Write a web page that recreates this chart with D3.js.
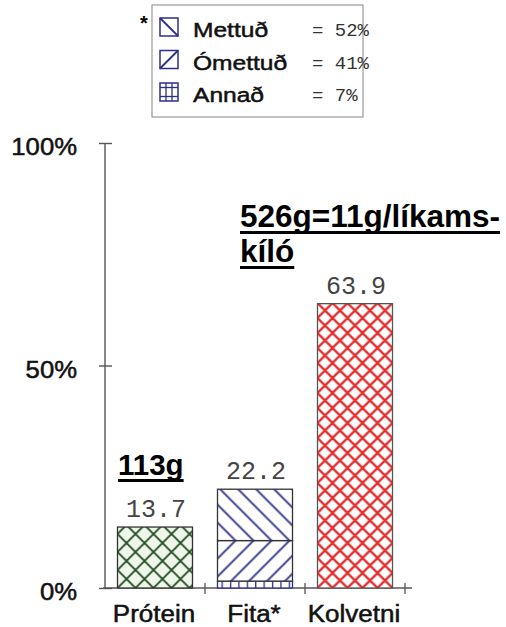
<!DOCTYPE html>
<html><head><meta charset="utf-8">
<script src="https://cdn.jsdelivr.net/npm/d3@7"></script>
<style>
html,body{margin:0;padding:0;background:#fff;}
svg{display:block;}
</style></head>
<body>
<svg id="chart" width="506" height="627"></svg>
<script>
// ---------- data ----------
const categories = ["Prótein", "Fita*", "Kolvetni"];
const values = [13.7, 22.2, 63.9];
const valueLabels = ["13.7", "22.2", "63.9"];
const fatParts = ["Annað", "Ómettuð", "Mettuð"];      // stacked bottom -> top
const fatShares = [7, 41, 52];                        // percent of fat
const legendNames = ["Mettuð", "Ómettuð", "Annað"];
const legendShares = ["= 52%", "= 41%", "= 7%"];
const yTicks = [0, 50, 100];
const noteProtein = ["113g"];
const noteCarb = ["526g=11g/líkams-", "kíló"];

// ---------- setup ----------
const svg = d3.select("#chart");
const sans = "'Liberation Sans', Arial, Helvetica, sans-serif";
const mono = "'Liberation Mono', 'Courier New', monospace";
const navy = "#2c2f88";

const y = d3.scaleLinear().domain([0, 100]).range([588, 143]);
const x = d3.scaleBand().domain(categories).range([105, 405]).paddingInner(0.25).paddingOuter(0.125);

const defs = svg.append("defs");
function diagPath(p, dir) {
  if (dir === "back") // "\"
    return `M0,0L${p},${p}M-2,${p - 2}L2,${p + 2}M${p - 2},-2L${p + 2},2`;
  return `M0,${p}L${p},0M-2,2L2,-2M${p - 2},${p + 2}L${p + 2},${p - 2}`; // "/"
}
function makePattern(id, p, px, py, dirs, color, width, bg) {
  const pat = defs.append("pattern").attr("id", id).attr("patternUnits", "userSpaceOnUse")
    .attr("x", px).attr("y", py).attr("width", p).attr("height", p);
  pat.append("rect").attr("width", p).attr("height", p).attr("fill", bg);
  dirs.forEach(d => pat.append("path").attr("d", diagPath(p, d)).attr("stroke", color)
    .attr("stroke-width", width).attr("fill", "none"));
}

// fat stack boundaries
const fatVal = values[1];
let acc = 0;
const fatSegs = fatParts.map((k, i) => {
  const v0 = acc; acc += fatVal * fatShares[i] / 100;
  return { key: k, v0: v0, v1: acc };
});

makePattern("pGreen", 18, x(categories[0]), y(0), ["back", "fwd"], "#264f26", 1.9, "#eef6e9");
makePattern("pRed", 15, x(categories[2]), y(0), ["back", "fwd"], "#e52e2e", 2.3, "#ffffff");
makePattern("pMet", 18, x(categories[1]), y(fatSegs[1].v1), ["back"], navy, 1.8, "#ffffff");
makePattern("pOmet", 18, x(categories[1]), y(fatSegs[1].v1), ["fwd"], navy, 1.8, "#ffffff");
{
  const p = 8.4;
  const pat = defs.append("pattern").attr("id", "pAnn").attr("patternUnits", "userSpaceOnUse")
    .attr("x", x(categories[1]) + 4).attr("y", 0).attr("width", p).attr("height", 20);
  pat.append("rect").attr("width", p).attr("height", 20).attr("fill", "#fff");
  pat.append("line").attr("x1", 0.6).attr("x2", 0.6).attr("y1", 0).attr("y2", 20)
    .attr("stroke", navy).attr("stroke-width", 1.4);
}

// ---------- axes ----------
const yAxis = svg.append("g").attr("transform", `translate(${x.range()[0]},0)`)
  .call(d3.axisLeft(y).tickValues(yTicks).tickFormat(d => d + "%").tickSize(6));
yAxis.select(".domain").attr("stroke", "#555").attr("stroke-width", 1.4)
  .attr("d", `M0,${y(100)}V${y(0)}`);
yAxis.selectAll(".tick line").attr("x1", -6).attr("x2", 7).attr("stroke", "#555").attr("stroke-width", 1.4);
yAxis.selectAll(".tick text")
  .attr("x", null).attr("dy", null)
  .attr("transform", "translate(-28,11.5) scale(1.07,1)")
  .attr("text-anchor", "end")
  .style("font-family", sans).style("font-size", "24px").attr("fill", "#111")
  .attr("stroke", "#111").attr("stroke-width", 0.5);

// baseline + boundary ticks
const step = x.step();
svg.append("line").attr("x1", x.range()[0] - 2).attr("x2", x.range()[1] + 7)
  .attr("y1", y(0)).attr("y2", y(0)).attr("stroke", "#555").attr("stroke-width", 1.4);
svg.selectAll("line.bt").data(categories).enter().append("line").attr("class", "bt")
  .attr("x1", d => x(d) + x.bandwidth() + step * x.paddingInner() / 2)
  .attr("x2", d => x(d) + x.bandwidth() + step * x.paddingInner() / 2)
  .attr("y1", y(0) - 5).attr("y2", y(0) + 6).attr("stroke", "#555").attr("stroke-width", 1.3);

const xAxis = svg.append("g").attr("transform", `translate(0,${y(0)})`)
  .call(d3.axisBottom(x).tickSize(0));
xAxis.select(".domain").remove();
xAxis.selectAll(".tick text")
  .attr("y", null).attr("dy", null)
  .attr("transform", "translate(-1,34) scale(1.13,1)")
  .style("font-family", sans).style("font-size", "23px").attr("fill", "#111")
  .attr("stroke", "#111").attr("stroke-width", 0.5);

// ---------- bars ----------
const bw = x.bandwidth();
svg.append("rect").attr("x", x(categories[0])).attr("y", y(values[0]))
  .attr("width", bw).attr("height", y(0) - y(values[0]))
  .attr("fill", "url(#pGreen)").attr("stroke", "#333").attr("stroke-width", 1.3);
svg.append("rect").attr("x", x(categories[2])).attr("y", y(values[2]))
  .attr("width", bw).attr("height", y(0) - y(values[2]))
  .attr("fill", "url(#pRed)").attr("stroke", "#555").attr("stroke-width", 1.3);
const fatFill = { "Annað": "url(#pAnn)", "Ómettuð": "url(#pOmet)", "Mettuð": "url(#pMet)" };
svg.selectAll("rect.fat").data(fatSegs).enter().append("rect").attr("class", "fat")
  .attr("x", x(categories[1])).attr("y", d => y(d.v1))
  .attr("width", bw).attr("height", d => y(d.v0) - y(d.v1))
  .attr("fill", d => fatFill[d.key]).attr("stroke", d => d.key === "Annað" ? navy : "#333")
  .attr("stroke-width", 1.3);

// value labels
svg.selectAll("text.val").data(categories).enter().append("text").attr("class", "val")
  .attr("x", d => x(d) + bw / 2 + 1)
  .attr("y", (d, i) => y(values[i]) - 10)
  .attr("text-anchor", "middle")
  .style("font-family", mono).style("font-size", "25px").attr("fill", "#444")
  .text((d, i) => valueLabels[i]);

// ---------- annotations ----------
function underlinedLines(lines, x0, y0, lh, size) {
  lines.forEach((t, i) => {
    const tx = svg.append("text").attr("x", x0).attr("y", y0 + i * lh)
      .style("font-family", sans).style("font-weight", "bold").style("font-size", size + "px")
      .attr("fill", "#000").text(t);
    const w = tx.node().getComputedTextLength();
    svg.append("rect").attr("x", x0).attr("y", y0 + i * lh + 4).attr("width", w).attr("height", 3).attr("fill", "#000");
  });
}
underlinedLines(noteProtein, 118, 475, 35, 29.5);
underlinedLines(noteCarb, 240, 227, 35, 31.5);

// ---------- legend ----------
const lg = svg.append("g");
lg.append("rect").attr("x", 152).attr("y", 5).attr("width", 211).attr("height", 112)
  .attr("fill", "#fff").attr("stroke", "#999").attr("stroke-width", 1.2);
lg.append("text").attr("x", 140).attr("y", 30).style("font-family", sans)
  .style("font-weight", "bold").style("font-size", "20px").text("*");
const rowY = d3.scalePoint().domain(legendNames).range([37, 102]);
legendNames.forEach((name, i) => {
  const by = rowY(name);
  const sx = 160, sy = by - 19, s = 18;
  const sw = lg.append("g");
  sw.append("rect").attr("x", sx).attr("y", sy).attr("width", s).attr("height", s)
    .attr("fill", "#fff").attr("stroke", navy).attr("stroke-width", 1.5);
  if (i === 0) sw.append("line").attr("x1", sx).attr("y1", sy).attr("x2", sx + s).attr("y2", sy + s)
    .attr("stroke", navy).attr("stroke-width", 1.8);
  if (i === 1) sw.append("line").attr("x1", sx).attr("y1", sy + s).attr("x2", sx + s).attr("y2", sy)
    .attr("stroke", navy).attr("stroke-width", 1.8);
  if (i === 2) {
    [s / 3, 2 * s / 3].forEach(o => sw.append("line").attr("x1", sx + o).attr("x2", sx + o)
      .attr("y1", sy).attr("y2", sy + s).attr("stroke", navy).attr("stroke-width", 1.3));
    [s / 4, 3 * s / 4].forEach(o => sw.append("line").attr("y1", sy + o).attr("y2", sy + o)
      .attr("x1", sx).attr("x2", sx + s).attr("stroke", navy).attr("stroke-width", 1.3));
  }
  lg.append("text").attr("transform", `translate(193,${by}) scale(1.17,1)`)
    .style("font-family", sans).style("font-size", "21px").attr("fill", "#111")
    .attr("stroke", "#111").attr("stroke-width", 0.5).text(name);
  lg.append("text").attr("x", 312).attr("y", by - 1)
    .style("font-family", mono).style("font-size", "19px").attr("fill", "#333").text(legendShares[i]);
});
</script>
</body></html>
